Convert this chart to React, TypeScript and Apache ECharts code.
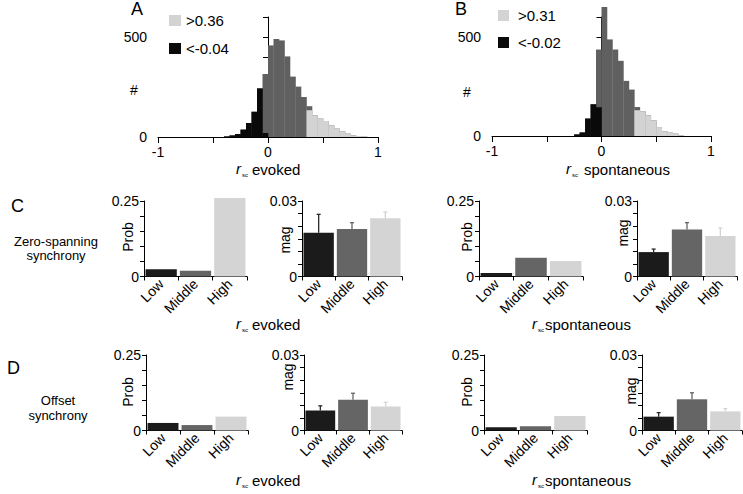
import React, { useEffect, useRef } from "react";
import * as echarts from "echarts";

const FONT = '"Liberation Sans", Arial, sans-serif';
const BIN = 0.05;

// Histogram A (r_sc evoked)
const histAStarts = [-0.4, -0.35, -0.3, -0.25, -0.2, -0.15, -0.1, -0.05, 0, 0.05, 0.1, 0.15, 0.2, 0.25, 0.3, 0.35, 0.4, 0.45, 0.5, 0.55, 0.6, 0.65, 0.7, 0.75, 0.8, 0.85];
const histATotal = [3, 8, 15, 37, 70, 126, 243, 315, 458, 490, 483, 403, 302, 252, 200, 154, 109, 92, 80, 59, 42, 29, 17, 8, 5, 2];
const histALow = [3, 8, 15, 37, 70, 126, 243, 20, 0, 0, 0, 0, 0, 0, 0, 0, 0, 0, 0, 0, 0, 0, 0, 0, 0, 0];
const histAHigh = [0, 0, 0, 0, 0, 0, 0, 0, 0, 0, 0, 0, 0, 0, 0, 134, 109, 92, 80, 59, 42, 29, 17, 8, 5, 2];

// Histogram B (r_sc spontaneous)
const histBStarts = [-0.25, -0.2, -0.15, -0.1, -0.05, 0, 0.05, 0.1, 0.15, 0.2, 0.25, 0.3, 0.35, 0.4, 0.45, 0.5, 0.55, 0.6, 0.65, 0.7];
const histBTotal = [8, 18, 88, 160, 436, 651, 487, 436, 379, 278, 234, 146, 125, 104, 79, 45, 24, 17, 12, 3];
const histBLow = [8, 18, 88, 160, 145, 0, 0, 0, 0, 0, 0, 0, 0, 0, 0, 0, 0, 0, 0, 0];
const histBHigh = [0, 0, 0, 0, 0, 0, 0, 0, 0, 0, 0, 130, 125, 104, 79, 45, 24, 17, 12, 3];

const histYTicks = ["0", "500"];
const histXTicks = ["-1", "0", "1"];

// Bar panels
const categories = ["Low", "Middle", "High"];
const probZeroEvoked = [0.024, 0.019, 0.26];
const magZeroEvoked = [0.0174, 0.0189, 0.0231];
const magZeroEvokedErr = [0.0073, 0.0025, 0.0025];
const probZeroSpont = [0.012, 0.062, 0.051];
const magZeroSpont = [0.0097, 0.0187, 0.0161];
const magZeroSpontErr = [0.0012, 0.0027, 0.0032];
const probOffsetEvoked = [0.025, 0.018, 0.046];
const magOffsetEvoked = [0.0079, 0.0122, 0.0095];
const magOffsetEvokedErr = [0.0019, 0.0026, 0.0017];
const probOffsetSpont = [0.011, 0.014, 0.048];
const magOffsetSpont = [0.0055, 0.0124, 0.0076];
const magOffsetSpontErr = [0.0016, 0.0026, 0.0011];

const barColors = ["#1b1b1b", "#656565", "#d4d4d4"];
const errColors = ["#2a2a2a", "#656565", "#d4d4d4"];
const histColors = { total: "#606060", low: "#0a0a0a", high: "#d3d3d3" };

const axisLine = { show: true, lineStyle: { color: "#000", width: 1 } };

function histSeries(idx: number, starts: number[], counts: number[], color: string, z: number) {
  return {
    type: "custom",
    xAxisIndex: idx,
    yAxisIndex: idx,
    silent: true,
    clip: false,
    z,
    encode: { x: 0, y: 1 },
    data: starts.map((s, i) => [s, counts[i]]).filter((d) => d[1] > 0),
    renderItem: (_p: any, api: any) => {
      const x0 = api.value(0);
      const c = api.value(1);
      const a = api.coord([x0, 0]);
      const b = api.coord([x0 + BIN, c]);
      return {
        type: "rect",
        shape: { x: a[0], y: b[1], width: b[0] - a[0] + 0.3, height: a[1] - b[1] },
        style: { fill: color },
      };
    },
  };
}

function barSeries(idx: number, values: number[]) {
  return {
    type: "bar",
    xAxisIndex: idx,
    yAxisIndex: idx,
    silent: true,
    clip: false,
    barCategoryGap: "9%",
    data: values.map((v, k) => ({ value: v, itemStyle: { color: barColors[k] } })),
  };
}

function errSeries(idx: number, values: number[], errs: number[]) {
  return {
    type: "custom",
    xAxisIndex: idx,
    yAxisIndex: idx,
    silent: true,
    clip: false,
    z: 5,
    encode: { x: 0, y: [1, 2] },
    data: values.map((v, k) => [k, v, v + errs[k]]),
    renderItem: (_p: any, api: any) => {
      const k = api.value(0);
      const base = api.coord([k, api.value(1)]);
      const top = api.coord([k, api.value(2)]);
      const st = { stroke: errColors[k], lineWidth: 1.3 };
      return {
        type: "group",
        children: [
          { type: "line", shape: { x1: top[0], y1: base[1], x2: top[0], y2: top[1] }, style: st },
          { type: "line", shape: { x1: top[0] - 2, y1: top[1], x2: top[0] + 2, y2: top[1] }, style: st },
        ],
      };
    },
  };
}

function txt(x: number, y: number, text: string, size: number, opts: any = {}) {
  return {
    type: "text",
    x,
    y,
    rotation: opts.rotation || 0,
    silent: true,
    style: {
      text,
      fill: "#000",
      fontSize: size,
      fontFamily: opts.family || FONT,
      fontStyle: opts.italic ? "italic" : "normal",
      textAlign: opts.align || "left",
      align: opts.align || "left",
      textVerticalAlign: "middle",
      verticalAlign: "middle",
    },
  };
}

function rsc(x: number, wordX: number, y: number, word: string) {
  return [
    txt(x, y - 1, "r", 15, { italic: true }),
    txt(x + 6, y + 6, "sc", 6),
    txt(wordX, y, word, 15),
  ];
}

export default function App() {
  const ref = useRef<HTMLDivElement>(null);
  useEffect(() => {
    if (!ref.current) return;
    const chart = echarts.init(ref.current, null, { renderer: "svg" });

    const grids: any[] = [
      { left: 158, top: 17, width: 220, height: 120 },
      { left: 492, top: 17, width: 219, height: 119 },
      { left: 144, top: 201, width: 103, height: 75.5 },
      { left: 302, top: 201, width: 100, height: 75.5 },
      { left: 479, top: 201, width: 104, height: 75.5 },
      { left: 637, top: 201, width: 100, height: 75.5 },
      { left: 146, top: 355, width: 102, height: 75.5 },
      { left: 304, top: 355, width: 98, height: 75.5 },
      { left: 484, top: 355, width: 103, height: 75.5 },
      { left: 642, top: 355, width: 100, height: 75.5 },
    ];

    const histX = (gi: number) => ({
      type: "value",
      gridIndex: gi,
      min: -1,
      max: 1,
      interval: 0.5,
      axisLine,
      axisTick: { show: true, length: 6, lineStyle: { color: "#000" } },
      splitLine: { show: false },
      axisLabel: {
        margin: 8,
        fontSize: 14,
        fontFamily: FONT,
        color: "#000",
        formatter: (v: number) => (v === -1 ? histXTicks[0] : v === 0 ? histXTicks[1] : v === 1 ? histXTicks[2] : ""),
      },
    });
    const histY = (gi: number) => ({
      type: "value",
      gridIndex: gi,
      min: 0,
      max: 600,
      interval: 100,
      axisLine,
      axisTick: { show: true, length: 5, lineStyle: { color: "#000" } },
      splitLine: { show: false },
      axisLabel: {
        margin: 11,
        fontSize: 14,
        fontFamily: FONT,
        color: "#000",
        formatter: (v: number) => (v === 0 ? histYTicks[0] : v === 500 ? histYTicks[1] : ""),
      },
    });
    const catX = (gi: number) => ({
      type: "category",
      gridIndex: gi,
      data: categories,
      axisLine,
      axisTick: { show: true, length: 4, lineStyle: { color: "#000" } },
      axisLabel: { interval: 0, rotate: 45, margin: 5, fontSize: 14, fontFamily: FONT, color: "#000" },
    });
    const valY = (gi: number, max: number, interval: number, maxLabel: string) => ({
      type: "value",
      gridIndex: gi,
      min: 0,
      max,
      interval,
      axisLine,
      axisTick: { show: true, length: 4, lineStyle: { color: "#000" } },
      splitLine: { show: false },
      axisLabel: {
        margin: 5,
        fontSize: 14,
        fontFamily: FONT,
        color: "#000",
        formatter: (v: number) => (v === 0 ? "0" : Math.abs(v - max) < 1e-9 ? maxLabel : ""),
      },
    });

    const xAxis: any[] = [histX(0), histX(1)];
    const yAxis: any[] = [histY(0), histY(1)];
    const kinds = ["prob", "mag", "prob", "mag", "prob", "mag", "prob", "mag"];
    kinds.forEach((k, i) => {
      xAxis.push(catX(i + 2));
      yAxis.push(k === "prob" ? valY(i + 2, 0.25, 0.05, "0.25") : valY(i + 2, 0.03, 0.005, "0.03"));
    });

    const series: any[] = [
      histSeries(0, histAStarts, histATotal, histColors.total, 1),
      histSeries(0, histAStarts, histAHigh, histColors.high, 2),
      histSeries(0, histAStarts, histALow, histColors.low, 3),
      histSeries(1, histBStarts, histBTotal, histColors.total, 1),
      histSeries(1, histBStarts, histBHigh, histColors.high, 2),
      histSeries(1, histBStarts, histBLow, histColors.low, 3),
      barSeries(2, probZeroEvoked),
      barSeries(3, magZeroEvoked),
      errSeries(3, magZeroEvoked, magZeroEvokedErr),
      barSeries(4, probZeroSpont),
      barSeries(5, magZeroSpont),
      errSeries(5, magZeroSpont, magZeroSpontErr),
      barSeries(6, probOffsetEvoked),
      barSeries(7, magOffsetEvoked),
      errSeries(7, magOffsetEvoked, magOffsetEvokedErr),
      barSeries(8, probOffsetSpont),
      barSeries(9, magOffsetSpont),
      errSeries(9, magOffsetSpont, magOffsetSpontErr),
    ];

    const R90 = Math.PI / 2;
    const graphic: any[] = [
      txt(131, 9, "A", 18),
      txt(455, 9, "B", 18),
      txt(11, 206, "C", 18),
      txt(7, 368, "D", 18),
      txt(130, 90, "#", 14),
      txt(463, 92, "#", 14),
      { type: "rect", silent: true, shape: { x: 169, y: 15, width: 12, height: 11 }, style: { fill: histColors.high } },
      { type: "rect", silent: true, shape: { x: 169, y: 43, width: 12, height: 11 }, style: { fill: histColors.low } },
      txt(186, 20.5, ">0.36", 15),
      txt(186, 48.5, "<-0.04", 15),
      { type: "rect", silent: true, shape: { x: 498, y: 10, width: 11, height: 11 }, style: { fill: histColors.high } },
      { type: "rect", silent: true, shape: { x: 498, y: 37, width: 11, height: 11 }, style: { fill: histColors.low } },
      txt(518, 15.5, ">0.31", 15),
      txt(518, 42.5, "<-0.02", 15),
      ...rsc(236, 252, 169, "evoked"),
      ...rsc(566, 584, 169, "spontaneous"),
      ...rsc(236, 252, 324, "evoked"),
      ...rsc(532, 545, 324, "spontaneous"),
      ...rsc(236, 252, 480, "evoked"),
      ...rsc(532, 545, 480, "spontaneous"),
      txt(56, 241, "Zero-spanning", 13, { align: "center" }),
      txt(56, 255, "synchrony", 13, { align: "center" }),
      txt(58, 400, "Offset", 13, { align: "center" }),
      txt(58, 415, "synchrony", 13, { align: "center" }),
      txt(128, 237, "Prob", 14, { align: "center", rotation: R90 }),
      txt(285, 240, "mag", 14, { align: "center", rotation: R90 }),
      txt(467, 237, "Prob", 14, { align: "center", rotation: R90 }),
      txt(623, 233, "mag", 14, { align: "center", rotation: R90 }),
      txt(128, 392, "Prob", 14, { align: "center", rotation: R90 }),
      txt(288, 377, "mag", 14, { align: "center", rotation: R90 }),
      txt(467, 392, "Prob", 14, { align: "center", rotation: R90 }),
      txt(631, 391, "mag", 14, { align: "center", rotation: R90 }),
    ];

    chart.setOption({
      animation: false,
      backgroundColor: "#fff",
      grid: grids,
      xAxis,
      yAxis,
      series,
      graphic,
    });
    return () => chart.dispose();
  }, []);

  return <div ref={ref} style={{ position: "absolute", left: 0, top: 0, width: 743, height: 494 }} />;
}
